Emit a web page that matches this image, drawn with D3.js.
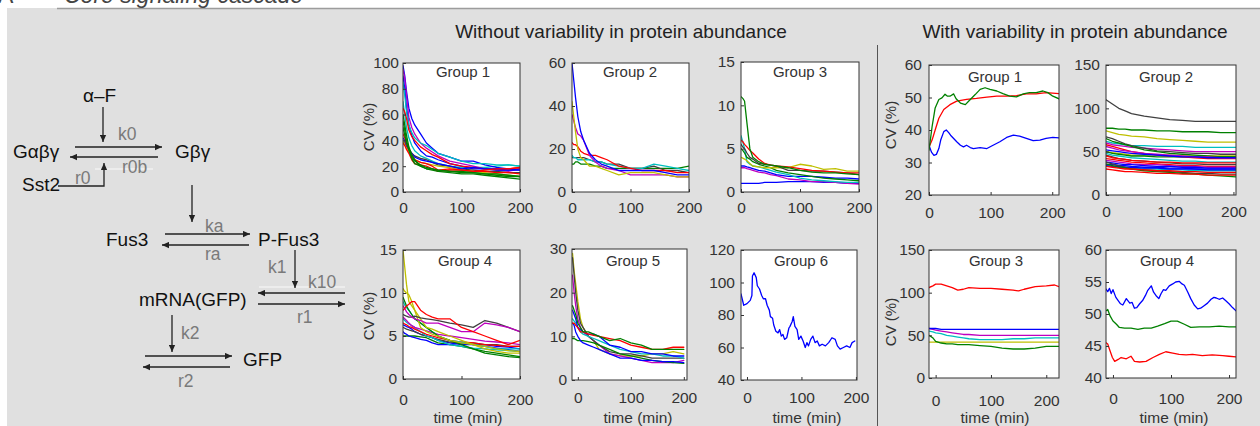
<!DOCTYPE html>
<html><head><meta charset="utf-8">
<script src="https://cdn.jsdelivr.net/npm/d3@7"></script>
<style>
body{margin:0;background:#fff;}
svg{display:block;font-family:"Liberation Sans",Arial,sans-serif;}
</style>
</head><body>
<svg id="c" width="1260" height="426"></svg>
<script>
// ---------------- DATA ----------------
const palette = {b:"#0000ff", g:"#008000", r:"#ff0000", c:"#00bfbf", m:"#bf00bf", y:"#bfbf00", k:"#404040"};

const xTicks = [0,100,200];
const yTicksG1 = [0,20,40,60,80,100];
const yTicksG2 = [0,20,40,60];
const yTicksG3 = [0,5,10,15];
const yTicksG4 = [0,5,10,15];
const yTicksG5 = [0,10,20,30];
const yTicksG6 = [40,60,80,100,120];
const yTicksR1 = [20,30,40,50,60];
const yTicksR2 = [0,50,100,150];
const yTicksR3 = [0,50,100,150];
const yTicksR4 = [40,45,50,55,60];

const tA = [0,3,6,10,15,20,30,40,50,60,80,100,120,140,160,180,200];
const tG5 = [-10,-7,-4,0,5,10,20,30,40,60,80,100,120,140,160,180,200];

const g1Series = [
 {c:"c", v:[70,60,50,42,36,32,28,26,24,22,20,19,19,19,20,21,20]},
 {c:"b", v:[98,90,78,65,57,52,45,38,34,30,27,24,24,21,19,18,17]},
 {c:"m", v:[95,88,75,58,50,45,38,34,31,28,24,22,20,18,17,16,18]},
 {c:"b", v:[90,80,65,52,44,38,32,28,27,25,22,20,18,18,17,17,18]},
 {c:"c", v:[85,75,62,52,46,42,38,36,33,30,27,24,22,22,21,21,20]},
 {c:"r", v:[65,62,57,48,43,40,35,32,29,27,22,20,19,18,18,18,19]},
 {c:"k", v:[40,38,36,33,30,28,26,25,23,21,20,18,17,16,16,15,15]},
 {c:"y", v:[40,37,34,31,28,25,23,22,21,20,19,17,16,15,14,13,12]},
 {c:"b", v:[42,40,36,33,30,27,25,24,23,22,20,18,19,18,18,17,17]},
 {c:"r", v:[45,42,37,33,29,25,23,22,20,17,18,17,16,16,15,15,14]},
 {c:"r", v:[38,36,33,30,25,22,21,20,18,16,17,17,16,17,18,18,19]},
 {c:"g", v:[60,52,44,35,29,25,20,18,17,16,15,14,14,13,12,11,10]},
 {c:"g", v:[55,48,40,33,27,24,21,19,18,17,16,16,15,14,13,12,12]},
 {c:"g", v:[50,44,38,33,26,22,20,18,18,17,16,15,15,14,14,13,12]}
];
const g2Series = [
 {c:"g", v:[13,13,14,14,13,13,13,12,12,11,11,11,11,11,11,11,12]},
 {c:"k", v:[16,16,16,16,16,16,15,14,14,13,13,11,11,12,10,10,9]},
 {c:"c", v:[17,16,16,15,15,15,15,14,14,13,12,11,11,13,12,11,10]},
 {c:"r", v:[23,22,22,21,19,18,17,17,16,15,12,11,10,10,10,9,9]},
 {c:"m", v:[36,33,30,27,26,24,17,14,12,11,10,8,8,8,8,7,7]},
 {c:"y", v:[42,35,28,20,16,15,12,12,11,10,8,9,9,9,8,7,7]},
 {c:"b", v:[60,52,44,35,28,24,18,15,13,12,10,10,10,10,9,8,8]}
];
const g3Series = [
 {c:"b", v:[1,1,1,1,1,1,1,1.1,1.1,1.1,1.2,1.2,1.2,1.1,1.1,1,1]},
 {c:"m", v:[2.8,2.8,2.8,2.7,2.6,2.5,2.3,2.2,2,1.9,1.5,1.4,1.2,1.2,1.1,1,0.9]},
 {c:"b", v:[3,3,3,2.9,2.8,2.7,2.5,2.4,2.2,2,1.8,1.8,1.8,1.7,1.6,1.6,1.5]},
 {c:"c", v:[6.5,5.8,5,3.5,3.2,3,2.9,2.7,2.5,2.3,2,1.6,1.4,1.3,1.2,1.1,1.1]},
 {c:"g", v:[5,4.8,4.5,4,3.8,3.5,3.2,3,2.8,2.5,2.2,2,1.8,1.6,1.5,1.4,1.3]},
 {c:"y", v:[4,3.9,3.8,3.6,3.3,3,2.9,2.8,2.8,2.8,2.8,3.2,3,2.6,2.7,2.4,2.4]},
 {c:"k", v:[5.5,5.2,5,4.5,4,3.8,3.3,3.2,3.1,3,2.5,2.5,2.4,2.4,2.3,2.2,2]},
 {c:"r", v:[6,5.8,5.5,5.2,4.8,4.5,3.8,3.3,3.1,3,2.9,2.7,2.5,2.4,2.3,2.2,2.2]},
 {c:"g", v:[11,10.8,10.5,8,5,4,3.5,3.2,3.1,3,2.8,2.5,2.3,2.2,2.2,2.1,2]}
];
const g4Series = [
 {c:"g", v:[5,5,5,5,5,5,4.9,4.8,4.5,4.2,4,3.8,3.5,3.2,3,2.8,2.6]},
 {c:"b", v:[5.5,5.3,5.2,5,4.9,4.8,4.6,4.5,4.2,4,4,4.2,4,4,3.8,3.7,3.5]},
 {c:"b", v:[6.3,6.2,6.1,6,5.8,5.5,5.2,5,4.8,4.5,4.2,4,4,3.8,3.6,3.4,3.2]},
 {c:"k", v:[6,5.9,5.8,5.7,5.6,5.5,5.2,5,4.8,4.6,4.3,4.2,4.2,4,4,3.8,3.8]},
 {c:"c", v:[7,6.8,6.6,6.4,6.2,6,5.5,5,4.8,4.5,4,3.8,3.6,3.5,3.4,3.3,3.2]},
 {c:"r", v:[6.5,6.4,6.3,6.1,6,5.8,5.5,5.2,5,4.8,4.5,4.3,4.2,4,3.9,3.8,3.8]},
 {c:"m", v:[7.2,7,6.8,6.5,6.2,6,5.8,5.6,5.4,5.2,5,4.8,4.6,4.4,4.3,4.2,4]},
 {c:"c", v:[9,8.6,8.3,8,7.5,7,6.5,6,5.5,5,4.5,4.3,4,3.8,3.5,3.5,3.5]},
 {c:"g", v:[9.5,9,8.5,8,7.5,7,6.5,6,5.5,5,4.5,4,3.5,3,2.8,2.6,2.5]},
 {c:"y", v:[10.5,10.2,10,9.8,9,8,6,5.5,5.2,5,4.5,4.2,4,3.8,3.5,3.3,3.2]},
 {c:"y", v:[15,13,11,9,8.5,8,7,6,5.8,5.5,5,4.5,4,3.5,3.2,3,3]},
 {c:"k", v:[7.5,7.4,7.3,7.2,7.2,7.3,7.1,7,6.9,6.8,6.5,6.3,6,6.8,6.5,6,5.5]},
 {c:"m", v:[8.5,8.2,7.8,7.5,7.2,7,6.8,6.5,6.5,6.5,6,5.5,5.5,6.5,6.3,6,5.5]},
 {c:"r", v:[8,8.2,8.5,8.7,9,9,8,7.5,7.2,7,7,6,5.5,5,4.5,4,4.5]}
];
const g5Series = [
 {c:"y", v:[29,25,22,18,14,12,10,9,7,6,5.5,5.5,5.5,6,6,6.5,6]},
 {c:"m", v:[24,20,17,14,12,11,10,9,8,6,5.5,5,4.5,4,4,4,4.5]},
 {c:"k", v:[28,24,20,16,13,12,10,9,8,6.5,6,6,5.5,5,5,5,5]},
 {c:"g", v:[9.5,9.5,9.3,9,9,9,8.8,8.5,8,7,6,5.5,5,4.5,4.2,4,3.8]},
 {c:"b", v:[13,12.5,11,10,9,8.5,8,7.5,7,6,5,5,4.5,4.5,4.2,4.2,4]},
 {c:"c", v:[14,13.5,13,12,11,10.5,10,9.5,9,8,7,6.5,6,6,5.5,5.5,5]},
 {c:"b", v:[16,15,14,12,11.5,11,10.5,10.5,10,8,7.5,6.5,6.5,6,6,5.5,5.5]},
 {c:"r", v:[13,13,12.5,12,11,11,10.5,10.2,10,9.5,9,8,7.5,7,7,7.5,7.5]},
 {c:"g", v:[17,16,15,13,12,11,11,10.5,10,9,9.5,8.5,8,7,7,7,7]}
];
const g6Times = [-11,-6,0,6,9,10,13,17,19,23,27,30,34,37,41,43,47,49,53,57,60,63,66,69,73,77,79,83,85,88,92,95,99,103,107,110,113,117,121,125,129,133,138,144,150,156,162,166,171,177,183,189,193,198];
const g6Values = [93,86,87,89,92,104,106,103,98,96,92,90,90,86,83,79,78,74,70,69,71,67,68,65,66,72,73,76,79,73,71,65,67,64,60,63,61,65,67,63,64,61,62,61,63,66,65,61,59,60,61,60,63,64];

const r1GreenT = [0,5,10,16,21,26,30,34,40,44,51,59,67,75,83,91,99,110,120,131,142,153,163,174,185,193,201,211];
const r1GreenV = [33.8,41,46.8,49.4,49.9,51,50.4,50.4,51.1,49.6,48.3,47.8,49.4,50.9,52.5,53,52.5,52,51.2,50.4,50.2,51.1,51.5,51.5,52,51.5,50.4,49.6];
const r1RedT = [0,5,10,16,24,34,45,61,77,94,110,126,142,158,174,190,211];
const r1RedV = [34.8,36.9,40,43.6,46.3,47.8,48.9,49.4,49.7,50.1,50.4,50.4,50.6,51.1,51.1,51.5,51.2];
const r1BlueT = [0,4,8,12,16,19,24,28,32,35,40,45,51,56,61,67,72,83,94,104,115,126,137,147,158,169,180,190,201,211];
const r1BlueV = [35.3,33.2,32.2,32.5,34.3,36.9,39.5,40,39.2,38.4,37.4,36.4,35.3,34.8,35.3,34.6,34.3,34.6,34.3,35.3,36.4,37.7,38.4,38.1,37.4,36.7,36.9,37.4,37.7,37.6];

const tR2 = [0,10,20,30,40,60,80,100,120,140,160,180,204];
const r2Series = [
 {c:"k", v:[110,105,100,97,94,91,89,87,86,85,85,85,85]},
 {c:"g", v:[77,77,76,76,75,75,74,74,73,73,73,72,72]},
 {c:"y", v:[74,72,70,69,68,67,65,64,63,62,61,61,61]},
 {c:"y", v:[50,49,48,47,46,46,46,46,45,45,45,45,45]},
 {c:"c", v:[62,60,59,58,57,57,56,56,56,55,55,55,55]},
 {c:"m", v:[60,58,57,56,55,54,53,52,51,50,50,50,50]},
 {c:"k", v:[67,65,62,59,57,54,51,50,49,48,48,47,47]},
 {c:"g", v:[65,62,60,58,56,52,50,48,47,46,45,44,44]},
 {c:"g", v:[50,48,47,46,45,45,44,44,44,44,44,44,44]},
 {c:"r", v:[58,56,54,52,50,48,46,45,44,43,42,42,42]},
 {c:"m", v:[56,54,52,51,50,48,47,46,45,44,44,43,43]},
 {c:"b", v:[52,51,50,49,48,47,46,45,44,44,43,43,43]},
 {c:"c", v:[48,46,45,44,43,42,41,40,39,39,38,38,38]},
 {c:"k", v:[46,44,42,41,40,39,38,37,36,36,35,35,35]},
 {c:"r", v:[45,43,42,41,40,39,38,38,37,37,37,37,37]},
 {c:"r", v:[42,41,40,39,38,37,36,35,34,34,33,33,33]},
 {c:"m", v:[40,39,38,37,36,35,35,34,33,33,32,32,32]},
 {c:"b", v:[38,37,36,35,35,34,33,33,32,32,31,31,31]},
 {c:"b", v:[35,35,34,34,33,32,32,31,31,30,30,30,30]},
 {c:"c", v:[34,33,32,32,31,30,30,29,29,28,28,28,28]},
 {c:"b", v:[34,33,33,32,32,31,31,30,30,30,29,29,29]},
 {c:"k", v:[38,36,34,32,30,29,28,27,26,25,25,24,24]},
 {c:"g", v:[36,34,32,31,30,28,27,26,25,24,23,22,21]},
 {c:"r", v:[33,32,31,30,30,29,28,28,27,27,26,26,26]},
 {c:"r", v:[30,29,28,27,27,26,25,25,24,24,23,23,23]}
];

const tR3 = [-12,-5,0,10,20,30,40,50,60,80,100,120,140,150,160,180,200,215,223];
const r3Series = [
 {c:"y", v:[42,42,42,42,42,42,42,42,42,42,42,42,42,42,42,42,42,42,42]},
 {c:"g", v:[50,47,43,41,40,40,39,39,39,38,37,35,34,34,34,35,37,37,37]},
 {c:"c", v:[55,54,53,52,50,49,48,47,46,45,45,45,46,46,46,47,47,47,47]},
 {c:"m", v:[58,57,56,55,54,53,52,51,51,50,50,50,50,50,50,50,50,50,50]},
 {c:"b", v:[58,58,58,57,57,57,57,57,57,57,57,57,57,57,57,57,57,57,57]},
 {c:"r", v:[106,108,110,110,108,106,103,104,106,105,105,104,103,102,104,107,108,109,107]}
];

const r4BlueT = [-12,-9,-6,-3,0,5,9,13,17,23,29,33,37,41,46,51,56,60,66,70,74,79,83,87,91,97,103,108,114,119,123,129,134,140,146,151,157,163,169,174,178,183,189,194,200,206,212];
const r4BlueV = [53.9,53.5,54,53.2,53.8,52.6,52.1,51.6,51.4,52.4,51.7,51.8,50.9,51,51.6,52.1,52.9,53.7,54.4,53.4,52.9,52.4,53.2,53.8,53.7,54.4,54.7,55,55.1,54.7,54.5,53.4,52.4,51.4,50.8,50.9,51.3,51.7,52.3,52.6,52.5,52.3,52.5,52.1,51.6,51,50.5];
const r4GreenT = [-12,-9,-5,0,6,11,20,31,43,54,66,77,89,100,111,123,134,149,166,183,200,212];
const r4GreenV = [50.5,50.7,49.7,48.9,48.4,47.9,47.8,47.8,47.6,47.8,47.8,48.1,48.5,48.9,48.9,48.4,47.9,48,48,48.1,48,48];
const r4RedT = [-12,-9,-6,-1,3,9,14,23,31,37,46,57,69,80,91,103,114,126,137,154,171,189,200,212];
const r4RedV = [45.5,45.3,44.5,43.2,42.6,42.9,43.2,43,43.4,42.6,42.5,42.6,43.2,43.7,44.1,43.9,43.7,43.6,43.7,43.5,43.6,43.5,43.4,43.3];

// ---------------- DRAW ----------------
const svg = d3.select("#c");
svg.append("rect").attr("x",7).attr("y",8).attr("width",1253).attr("height",418).attr("fill","#e0e0e0");
svg.append("line").attr("x1",57).attr("x2",1260).attr("y1",8.5).attr("y2",8.5).attr("stroke","#9c9c9c").attr("stroke-width",1.5);
svg.append("text").attr("x",-2).attr("y",2.5).attr("font-size",23).attr("fill","#444").text("A");
svg.append("text").attr("x",64).attr("y",2.5).attr("font-size",23).attr("font-style","italic").attr("fill","#444").text("Core signaling cascade");

// headers
svg.append("text").attr("x",621).attr("y",38).attr("text-anchor","middle").attr("font-size",19).attr("fill","#222").text("Without variability in protein abundance");
svg.append("text").attr("x",1075).attr("y",38).attr("text-anchor","middle").attr("font-size",19).attr("fill","#222").text("With variability in protein abundance");
svg.append("line").attr("x1",877.5).attr("x2",877.5).attr("y1",45).attr("y2",426).attr("stroke","#555").attr("stroke-width",1);

// diagram
const defs = svg.append("defs");
defs.append("marker").attr("id","ah").attr("viewBox","0 0 10 10").attr("refX",10).attr("refY",5)
  .attr("markerWidth",8).attr("markerHeight",7).attr("markerUnits","userSpaceOnUse").attr("orient","auto")
  .append("path").attr("d","M0,0.5 L10,5 L0,9.5 Z").attr("fill","#222");
const arrows = [[103,107,103,142],[75,147,162,147],[158,157,70,157],[192,185,192,222],[165,234,250,234],[249,245,162,245],[295,250,295,288],[345,293,258,293],[258,304,345,304],[172,315,172,352],[145,356,232,356],[230,367,143,367]];
const dg = svg.append("g");
dg.append("line").attr("x1",95).attr("x2",153).attr("y1",169).attr("y2",169).attr("stroke","#f2f2f2").attr("stroke-width",1.5);
dg.append("line").attr("x1",259).attr("x2",345).attr("y1",287).attr("y2",287).attr("stroke","#f2f2f2").attr("stroke-width",1.5);
arrows.forEach(a=>dg.append("line").attr("x1",a[0]).attr("y1",a[1]).attr("x2",a[2]).attr("y2",a[3])
  .attr("stroke","#222").attr("stroke-width",1.3).attr("marker-end","url(#ah)"));
dg.append("path").attr("d","M58,186 H104 V163").attr("fill","none").attr("stroke","#222").attr("stroke-width",1.3).attr("marker-end","url(#ah)");
const species = [["α–F",83,102],["Gαβγ",13,158],["Gβγ",175,158],["Sst2",22,191],["Fus3",106,246],["P-Fus3",258,246],["mRNA(GFP)",139,306],["GFP",243,366]];
const rates = [["k0",118,140],["r0b",122,173],["r0",75,184],["ka",205,232],["ra",205,260],["k1",268,273],["k10",308,288],["r1",297,323],["k2",181,339],["r2",178,387]];
species.forEach(s=>dg.append("text").attr("x",s[1]).attr("y",s[2]).attr("font-size",19).attr("fill","#111").text(s[0]));
rates.forEach(s=>dg.append("text").attr("x",s[1]).attr("y",s[2]).attr("font-size",17.5).attr("fill","#7a7a7a").text(s[0]));

// panels
const S = (times, series) => series.map(s=>({c:s.c, t:times, v:s.v}));
const panels = [
 {id:"g1", title:"Group 1", x0:403,x1:520,y0:63,y1:192, xDom:[0,200], yDom:[0,100], yTicks:yTicksG1, series:S(tA,g1Series), tx:463, ty:77, xPad:10, yPad:4, ylab:[369,127]},
 {id:"g2", title:"Group 2", x0:572,x1:689,y0:63,y1:192, xDom:[0,200], yDom:[0,60], yTicks:yTicksG2, series:S(tA,g2Series), tx:630, ty:77, xPad:10, yPad:6},
 {id:"g3", title:"Group 3", x0:741,x1:859,y0:62,y1:192, xDom:[0,200], yDom:[0,15], yTicks:yTicksG3, series:S(tA,g3Series), tx:800, ty:77, xPad:10, yPad:6},
 {id:"g4", title:"Group 4", x0:403,x1:520,y0:250,y1:379, xDom:[0,200], yDom:[0,15], yTicks:yTicksG4, series:S(tA,g4Series), tx:465, ty:266, xPad:15, yPad:6, ylab:[369,316], xlab:468},
 {id:"g5", title:"Group 5", x0:572,x1:687,y0:249,y1:380, xDom:[-11,206], yDom:[0,30], yTicks:yTicksG5, series:S(tG5,g5Series), tx:633, ty:266, xPad:12, yPad:5, xlab:638},
 {id:"g6", title:"Group 6", x0:741,x1:857,y0:250,y1:380, xDom:[-11,202], yDom:[40,120], yTicks:yTicksG6, series:[{c:"b",t:g6Times,v:g6Values}], tx:801, ty:266, xPad:12, yPad:6, xlab:807},
 {id:"r1", title:"Group 1", x0:929,x1:1059,y0:65,y1:195, xDom:[0,211], yDom:[20,60], yTicks:yTicksR1,
   series:[{c:"b",t:r1BlueT,v:r1BlueV},{c:"r",t:r1RedT,v:r1RedV},{c:"g",t:r1GreenT,v:r1GreenV}], tx:995, ty:82, xPad:12, yPad:7, ylab:[891,125]},
 {id:"r2", title:"Group 2", x0:1106,x1:1236,y0:65,y1:195, xDom:[0,204], yDom:[0,150], yTicks:yTicksR2, series:S(tR2,r2Series), tx:1166, ty:82, xPad:11, yPad:6},
 {id:"r3", title:"Group 3", x0:929,x1:1059,y0:250,y1:378, xDom:[-12,223], yDom:[0,150], yTicks:yTicksR3, series:S(tR3,r3Series), tx:996, ty:266, xPad:17, yPad:4, ylab:[891,322], xlab:995},
 {id:"r4", title:"Group 4", x0:1106,x1:1236,y0:250,y1:378, xDom:[-12,212], yDom:[40,60], yTicks:yTicksR4,
   series:[{c:"r",t:r4RedT,v:r4RedV},{c:"g",t:r4GreenT,v:r4GreenV},{c:"b",t:r4BlueT,v:r4BlueV}], tx:1167, ty:266, xPad:15, yPad:4, xlab:1174}
];

panels.forEach(p=>{
  const x = d3.scaleLinear().domain(p.xDom).range([p.x0,p.x1]);
  const y = d3.scaleLinear().domain(p.yDom).range([p.y1,p.y0]);
  svg.append("rect").attr("x",p.x0).attr("y",p.y0).attr("width",p.x1-p.x0).attr("height",p.y1-p.y0).attr("fill","#fff");
  const cid = "clip-"+p.id;
  defs.append("clipPath").attr("id",cid).append("rect").attr("x",p.x0).attr("y",p.y0).attr("width",p.x1-p.x0).attr("height",p.y1-p.y0);
  const gl = svg.append("g").attr("clip-path",`url(#${cid})`);
  const line = d3.line().x(d=>x(d[0])).y(d=>y(d[1]));
  p.series.forEach(s=>{
    gl.append("path").attr("d", line(s.t.map((tt,i)=>[tt,s.v[i]])))
      .attr("fill","none").attr("stroke",palette[s.c]).attr("stroke-width",1.3)
      .attr("stroke-linejoin","round").attr("stroke-linecap","round");
  });
  const xa = svg.append("g").attr("transform",`translate(0,${p.y1})`)
    .call(d3.axisBottom(x).tickValues(xTicks).tickSize(-3).tickPadding(p.xPad).tickFormat(d3.format("d")));
  const ya = svg.append("g").attr("transform",`translate(${p.x0},0)`)
    .call(d3.axisLeft(y).tickValues(p.yTicks).tickSize(-3).tickPadding(p.yPad).tickFormat(d3.format("d")));
  [xa,ya].forEach(a=>{
    a.attr("font-size",null).attr("font-family",null).attr("color","#333");
    a.select(".domain").remove();
    a.selectAll("text").attr("font-size",15.5).attr("fill","#333");
  });
  svg.append("rect").attr("x",p.x0).attr("y",p.y0).attr("width",p.x1-p.x0).attr("height",p.y1-p.y0)
    .attr("fill","none").attr("stroke","#333").attr("stroke-width",1);
  svg.append("text").attr("x",p.tx).attr("y",p.ty).attr("text-anchor","middle").attr("font-size",15).attr("fill","#333").text(p.title);
  if(p.ylab){
    svg.append("text").attr("transform",`translate(${p.ylab[0]+5},${p.ylab[1]}) rotate(-90)`)
      .attr("text-anchor","middle").attr("font-size",15).attr("fill","#333").text("CV (%)");
  }
  if(p.xlab){
    svg.append("text").attr("x",p.xlab).attr("y",423).attr("text-anchor","middle").attr("font-size",15.5).attr("fill","#333").text("time (min)");
  }
});
</script>
</body></html>
